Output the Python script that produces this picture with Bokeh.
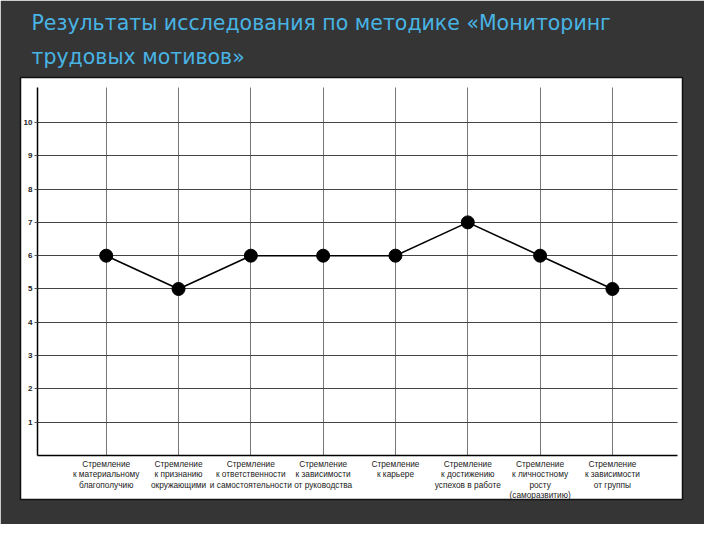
from bokeh.plotting import figure
from bokeh.models import FixedTicker, Range1d, Title
from bokeh.embed import file_html
from bokeh.resources import INLINE

# ---- data ----
categories = [
    "Стремление\nк материальному\nблагополучию",
    "Стремление\nк признанию\nокружающими",
    "Стремление\nк ответственности\nи самостоятельности",
    "Стремление\nк зависимости\nот руководства",
    "Стремление\nк карьере",
    "Стремление\nк достижению\nуспехов в работе",
    "Стремление\nк личностному\nросту\n(саморазвитию)",
    "Стремление\nк зависимости\nот группы",
]
scores = [6, 5, 6, 6, 6, 7, 6, 5]
y_ticks = [1, 2, 3, 4, 5, 6, 7, 8, 9, 10]
title_lines = ["Результаты исследования по методике «Мониторинг", "трудовых мотивов»"]

positions = list(range(1, len(categories) + 1))

# ---- layout constants (canvas px) ----
W, H = 704, 524
# white panel (frame)
PL, PR, PT, PB = 20, 682, 77, 499
# data area inside the panel
DL, DR, DT, DB = 37, 677, 87, 455
X0, X1 = 0.05, 8.9
Y0, Y1 = 0.0, 11.05
sx = (X1 - X0) / (DR - DL)
sy = (Y1 - Y0) / (DB - DT)
XR = (X0 - (DL - PL) * sx, X1 + (PR - DR) * sx)
YR = (Y0 - (PB - DB) * sy, Y1 + (DT - PT) * sy)

p = figure(width=W, height=H, output_backend="svg", toolbar_location=None,
           x_range=Range1d(*XR), y_range=Range1d(*YR),
           min_border_left=PL, min_border_right=W - PR,
           min_border_top=PT, min_border_bottom=H - PB,
           border_fill_color="#353535", background_fill_color="white",
           outline_line_color="#111111", outline_line_width=1.5,
           title=None)

p.add_layout(Title(text="\n".join(title_lines), text_font="DejaVu Sans",
                   text_font_size="20.5px", text_font_style="normal",
                   text_color="#48b4e4", text_line_height=1.42,
                   offset=11, standoff=16), "above")

# axes placed inside the panel
xa = p.xaxis[0]
xa.fixed_location = 0
xa.bounds = (X0, X1)
xa.ticker = FixedTicker(ticks=positions)
xa.major_label_overrides = {pos: lab for pos, lab in zip(positions, categories)}
xa.major_label_text_font = "Liberation Sans"
xa.major_label_text_font_size = "8.3px"
xa.major_label_text_line_height = 1.05
xa.major_label_text_color = "#222222"
xa.major_label_standoff = 3
xa.major_tick_out = 0
xa.major_tick_in = 0
xa.minor_tick_line_color = None
xa.axis_line_color = "black"
xa.axis_line_width = 1.5

ya = p.yaxis[0]
ya.fixed_location = X0
ya.bounds = (Y0, Y1)
ya.ticker = FixedTicker(ticks=y_ticks)
ya.major_label_text_font = "Liberation Sans"
ya.major_label_text_font_size = "8px"
ya.major_label_text_font_style = "bold"
ya.major_label_text_color = "#222222"
ya.major_label_standoff = 2
ya.major_tick_out = 3
ya.major_tick_in = 0
ya.major_tick_line_color = "#555555"
ya.minor_tick_line_color = None
ya.axis_line_color = "black"
ya.axis_line_width = 1.5

p.xgrid.ticker = FixedTicker(ticks=positions)
p.xgrid.bounds = (X0, X1)
p.xgrid.cross_bounds = (Y0, Y1)
p.xgrid.grid_line_color = "#777777"
p.xgrid.grid_line_width = 1
p.ygrid.ticker = FixedTicker(ticks=y_ticks)
p.ygrid.bounds = (Y0, Y1)
p.ygrid.cross_bounds = (X0, X1)
p.ygrid.grid_line_color = "#444444"
p.ygrid.grid_line_width = 1.2

# data
p.line(positions, scores, line_color="black", line_width=1.6)
p.scatter(positions, scores, size=13, fill_color="black", line_color="black")

open("out.html", "w").write(file_html(p, INLINE))
